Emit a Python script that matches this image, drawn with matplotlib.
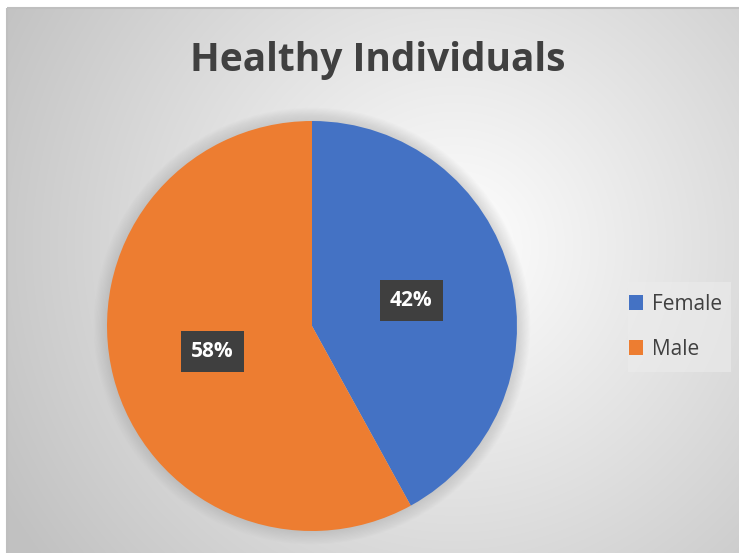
import numpy as np
import matplotlib
matplotlib.use("Agg")
import matplotlib.pyplot as plt
from matplotlib.patches import Rectangle, Circle

categories = ["Female", "Male"]
values = [42, 58]
colors = ["#4472C4", "#ED7D31"]
title = "Healthy Individuals"

W, H = 739, 553
fig = plt.figure(figsize=(W / 100, H / 100), dpi=100)
fig.patch.set_facecolor("white")

# background radial gradient (chart area)
bg = fig.add_axes([0, 0, 1, 1])
bg.set_xlim(0, W)
bg.set_ylim(H, 0)
bg.axis("off")
yy, xx = np.mgrid[0:H, 0:W]
cx, cy = 450, 240
d = np.sqrt((xx - cx) ** 2 + (yy - cy) ** 2) / 520.0
d = np.clip(d, 0, 1)
g = 1.0 - 0.24 * d
img = np.dstack([g, g, g])
bg.imshow(img, extent=(7, W + 3, H + 3, 8), aspect="auto", zorder=0)
bg.add_patch(Rectangle((7, 8), W, H, fill=False, edgecolor="#bfbfbf", lw=1.5, zorder=1))

# legend background box
bg.add_patch(Rectangle((628, 282), 103, 90, facecolor="#ececec", edgecolor="none", alpha=0.6, zorder=1))

# soft shadow around the pie
R = 205
cxp, cyp = 312, 326
for k in range(1, 12):
    bg.add_patch(Circle((cxp, cyp), R + k * 1.2, facecolor="#808080", edgecolor="none",
                        alpha=0.025, zorder=1))

fig.text(378 / W, 1 - 60 / H, title, ha="center", va="center",
         fontsize=28, fontweight="bold", color="#404040", family="Open Sans")

# pie axes: center (312, 326), radius 205
ax = fig.add_axes([(cxp - R) / W, 1 - (cyp + R) / H, 2 * R / W, 2 * R / H])
wedges, texts, autotexts = ax.pie(values, colors=colors, startangle=90, counterclock=False,
                                  autopct="%1.0f%%", pctdistance=0.5,
                                  wedgeprops=dict(linewidth=0))
ax.set_xlim(-1, 1)
ax.set_ylim(-1, 1)
ax.set_aspect("auto")
for t in autotexts:
    t.set_color("white")
    t.set_fontsize(15)
    t.set_fontweight("bold")
    t.set_family("Open Sans")
    t.set_bbox(dict(boxstyle="square,pad=0.5", facecolor="#3f3f3f", edgecolor="none"))

leg = fig.legend(wedges, categories, loc="center left", bbox_to_anchor=(610 / W, 1 - 327 / H),
                 frameon=False, handlelength=0.7, handleheight=0.7,
                 handletextpad=0.4, labelspacing=1.15, prop={"family": "Open Sans", "size": 15})
for t in leg.get_texts():
    t.set_color("#404040")

fig.savefig("out.png", dpi=100)
